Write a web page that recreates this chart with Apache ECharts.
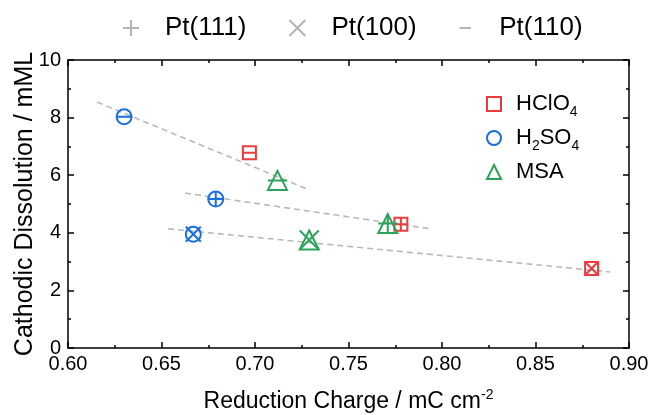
<!DOCTYPE html>
<html>
<head>
<meta charset="utf-8">
<script src="https://cdn.jsdelivr.net/npm/echarts@6/dist/echarts.min.js"></script>
<style>
html,body{margin:0;padding:0;background:#fff;}
#chart{width:651px;height:415px;}
</style>
</head>
<body>
<div id="chart"></div>
<script>
// ---- data ----
const electrolytes = ['HClO4', 'H2SO4', 'MSA'];
const facets = ['Pt(111)', 'Pt(100)', 'Pt(110)'];
// values in facet order: Pt(111), Pt(100), Pt(110)
const chargeHClO4 = [0.778, 0.880, 0.697];
const dissolHClO4 = [4.30, 2.76, 6.78];
const chargeH2SO4 = [0.679, 0.667, 0.630];
const dissolH2SO4 = [5.17, 3.95, 8.03];
const chargeMSA = [0.771, 0.729, 0.712];
const dissolMSA = [4.32, 3.75, 5.82];
// dashed trend lines per facet (end points)
const fitX111 = [0.6626, 0.7947];
const fitY111 = [5.38, 4.13];
const fitX100 = [0.6535, 0.890];
const fitY100 = [4.14, 2.64];
const fitX110 = [0.6155, 0.729];
const fitY110 = [8.54, 5.49];
const xTicks = ['0.60', '0.65', '0.70', '0.75', '0.80', '0.85', '0.90'];
const yTicks = ['0', '2', '4', '6', '8', '10'];

// ---- styles ----
const FONT = '"Liberation Sans", Arial, sans-serif';
const colors = ['#ec3b3b', '#1a6ee0', '#2ba35a'];
const shapes = ['rect', 'circle', 'triangle'];
const sizes = [13, 15, 19];
const innerPaths = [
  'path://M10,0L10,20M0,10L20,10',
  'path://M0,0L20,20M20,0L0,20',
  'path://M0,10L20,10M10,0L10.001,0M10,20L10.001,20'
];
const legendIcons = [
  'path://M10,0L10,20M0,10L20,10',
  'path://M0,0L20,20M20,0L0,20',
  'path://M3,10L17,10M10,0L10.001,0M10,20L10.001,20'
];
const legendGray = '#b4b4b4';

const charges = [chargeHClO4, chargeH2SO4, chargeMSA];
const dissols = [dissolHClO4, dissolH2SO4, dissolMSA];
const fits = [[fitX111, fitY111], [fitX100, fitY100], [fitX110, fitY110]];

const series = [];
fits.forEach(function (f, j) {
  series.push({
    type: 'line', name: 'fit' + j, xAxisIndex: 0, yAxisIndex: 0,
    data: f[0].map(function (x, k) { return [x, f[1][k]]; }),
    symbol: 'none', silent: true,
    lineStyle: { color: '#b9b9b9', width: 1.6, type: [6, 4] },
    z: 1
  });
});
electrolytes.forEach(function (e, i) {
  series.push({
    type: 'scatter', name: e, xAxisIndex: 0, yAxisIndex: 0,
    symbol: shapes[i], symbolSize: sizes[i], symbolKeepAspect: true,
    itemStyle: { color: 'rgba(0,0,0,0)', borderColor: colors[i], borderWidth: 2, opacity: 1 },
    data: charges[i].map(function (x, k) { return [x, dissols[i][k]]; }),
    z: 3
  });
  facets.forEach(function (f, j) {
    series.push({
      type: 'scatter', name: f, xAxisIndex: 0, yAxisIndex: 0,
      symbol: innerPaths[j], symbolSize: sizes[i],
      itemStyle: { color: 'rgba(0,0,0,0)', borderColor: colors[i], borderWidth: 2, opacity: 1 },
      data: [[charges[i][j], dissols[i][j]]],
      z: 4
    });
  });
});

function subName(n) {
  if (n === 'HClO4') return '{p| }{a|HClO}{b|4}';
  if (n === 'H2SO4') return '{p| }{a|H}{b|2}{a|SO}{b|4}';
  return '{p| }{a|' + n + '}{b| }';
}

const axisCommon = {
  type: 'value',
  axisLine: { show: true, onZero: false, lineStyle: { color: '#000', width: 1.5 } },
  axisTick: { show: true, inside: true, length: 6, lineStyle: { color: '#000', width: 1.5 } },
  minorTick: { show: true, splitNumber: 2, length: 3, lineStyle: { color: '#000', width: 1.5 } },
  splitLine: { show: false },
  minorSplitLine: { show: false }
};

const option = {
  animation: false,
  backgroundColor: '#fff',
  grid: { left: 68, right: 22, top: 60, bottom: 67, containLabel: false, outerBoundsMode: 'none' },
  xAxis: [
    Object.assign({}, axisCommon, {
      position: 'bottom', min: 0.6, max: 0.9, interval: 0.05,
      axisLabel: { fontFamily: FONT, fontSize: 20, color: '#000', margin: 6,
        formatter: function (v) { const idx = Math.round((v - 0.6) / 0.05); return xTicks[idx]; } },
      name: '{a|Reduction Charge / mC cm}{b|-2}',
      nameLocation: 'middle', nameGap: 40,
      nameTextStyle: { fontFamily: FONT, color: '#000',
        rich: {
          a: { fontFamily: FONT, fontSize: 23, color: '#000', lineHeight: 28 },
          b: { fontFamily: FONT, fontSize: 14, color: '#000', lineHeight: 14, verticalAlign: 'top', padding: [0, 0, 14, 0] }
        } }
    }),
    Object.assign({}, axisCommon, {
      position: 'top', min: 0.6, max: 0.9, interval: 0.05,
      axisLabel: { show: false }
    })
  ],
  yAxis: [
    Object.assign({}, axisCommon, {
      position: 'left', min: 0, max: 10, interval: 2,
      axisLabel: { fontFamily: FONT, fontSize: 20, color: '#000', margin: 7,
        formatter: function (v) { return yTicks[Math.round(v / 2)]; } },
      name: 'Cathodic Dissolution / mML',
      nameLocation: 'middle', nameGap: 30, nameMoveOverlap: false,
      nameTextStyle: { fontFamily: FONT, fontSize: 25, color: '#000' }
    }),
    Object.assign({}, axisCommon, {
      position: 'right', min: 0, max: 10, interval: 2,
      axisLabel: { show: false }
    })
  ],
  legend: [
    {
      orient: 'horizontal', left: 122, top: 15, padding: 0,
      itemWidth: 16, itemHeight: 16, itemGap: 42,
      selectedMode: false,
      data: facets.map(function (f, j) {
        return { name: f, icon: legendIcons[j],
          itemStyle: { color: 'rgba(0,0,0,0)', borderColor: legendGray, borderWidth: 2 } };
      }),
      formatter: function (n) { return '{p| }{t|' + n + '}'; },
      textStyle: { fontFamily: FONT, fontSize: 26, color: '#000',
        rich: {
          p: { width: 21, fontSize: 26 },
          t: { fontFamily: FONT, fontSize: 26, color: '#000' }
        } }
    },
    {
      orient: 'vertical', left: 486, top: 91, padding: 0,
      itemWidth: 14, itemHeight: 14, itemGap: 6,
      selectedMode: false,
      data: electrolytes,
      formatter: subName,
      textStyle: { fontFamily: FONT, fontSize: 22, color: '#000',
        rich: {
          p: { width: 10, fontSize: 22, lineHeight: 30 },
          a: { fontFamily: FONT, fontSize: 22, color: '#000', lineHeight: 30 },
          b: { fontFamily: FONT, fontSize: 14, color: '#000', lineHeight: 16, verticalAlign: 'bottom', padding: [14, 0, 0, 0] }
        } }
    }
  ],
  series: series
};

const chart = echarts.init(document.getElementById('chart'), null, { renderer: 'canvas' });
chart.setOption(option);
</script>
</body>
</html>
